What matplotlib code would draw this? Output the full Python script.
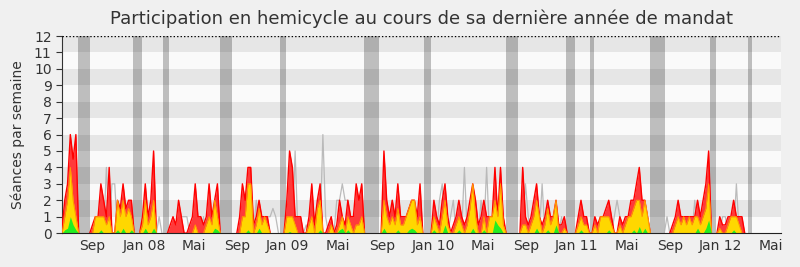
import matplotlib.pyplot as plt
import numpy as np

# Weekly data (week 0 = mid-June 2007)
presences = [
    0.3, 2, 3, 6, 4.5, 6, 0, 0, 0, 0,
    0, 0.5, 1, 1, 3, 2, 1, 4, 0, 0,
    2, 1.5, 3, 1.5, 2, 2, 0, 0, 0, 1,
    3, 1, 2, 5, 0, 0, 0, 0, 0, 0.5,
    1, 0.5, 2, 1, 0, 0, 0.5, 1, 3, 1,
    1, 0.5, 1, 3, 1, 2, 3, 0, 0, 0,
    0, 0, 0, 0, 1, 3, 2, 4, 4, 0.5,
    1, 2, 1, 1, 1, 0, 0, 0, 0, 0,
    0, 2, 5, 4, 1, 1, 1, 0, 0, 1,
    3, 0.5, 2, 3, 0, 0, 0.5, 1, 0, 0.5,
    2, 1, 0.5, 2, 1, 1, 3, 2, 3, 0,
    0, 0, 0, 0, 0, 0, 5, 2, 1, 2,
    1, 3, 1, 1, 1, 1.5, 2, 2, 1, 3,
    0, 0, 0, 0, 2, 1, 0.5, 2, 3, 1,
    0, 0.5, 1, 2, 1, 0.5, 1, 2, 3, 2,
    0.5, 1, 2, 1, 1, 1, 4, 1, 4, 1,
    0, 0, 0, 0, 0, 0, 4, 1, 0.5, 1,
    2, 3, 1, 0.5, 1, 2, 1, 1, 2, 0.5,
    0.5, 1, 0, 0, 0, 0, 1, 2, 1, 1,
    0, 0, 1, 0.5, 1, 1, 1.5, 2, 1, 0,
    0, 1, 0.5, 1, 1, 2, 2, 3, 4, 2,
    2, 1, 0, 0, 0, 0, 0, 0, 0, 0,
    0.5, 1, 2, 1, 1, 1, 1, 1, 1, 2,
    1, 2, 3, 5, 0, 0, 0, 1, 0.5, 0.5,
    1, 1, 2, 1, 1, 1, 0, 0, 0, 0,
    0, 0, 0, 0, 0, 0, 0, 0, 0, 0,
]

participations = [
    0, 1, 2, 4, 2, 1, 0, 0, 0, 0,
    0, 0, 1, 1, 1, 1, 0.5, 1, 0, 0,
    2, 1, 2, 1, 1.5, 1, 0, 0, 0, 0.5,
    2, 0.5, 1, 2, 0, 0, 0, 0, 0, 0,
    0, 0, 0, 0, 0, 0, 0, 0, 0.5, 0,
    0, 0, 0.5, 1, 0.5, 2, 1, 0, 0, 0,
    0, 0, 0, 0, 0, 1, 1, 3, 3, 0,
    0.5, 1.5, 0.5, 1, 0.5, 0, 0, 0, 0, 0,
    0, 1, 1, 1, 0.5, 0, 0, 0, 0, 0.5,
    1, 0, 1.5, 2, 0, 0, 0, 0.5, 0, 0,
    0.5, 1, 0, 1, 0.5, 0, 0.5, 0.5, 1, 0,
    0, 0, 0, 0, 0, 0, 2, 1, 0.5, 1,
    0.5, 1.5, 0.5, 0.5, 1, 1.5, 2, 2, 0.5, 1,
    0, 0, 0, 0, 1, 0.5, 0, 1, 2, 0.5,
    0, 0, 0.5, 1, 0.5, 0, 0.5, 1.5, 3, 1,
    0, 0, 1, 0, 1, 1, 2, 1, 3, 0.5,
    0, 0, 0, 0, 0, 0, 0.5, 0.5, 0, 0.5,
    1, 2, 1, 0, 0.5, 1.5, 0.5, 1, 2, 0,
    0, 0.3, 0, 0, 0, 0, 0.5, 1, 0.5, 0.5,
    0, 0, 0.5, 0, 1, 1, 1, 1, 0.5, 0,
    0, 0.5, 0, 0.5, 1, 1, 1.5, 2, 2, 1,
    2, 1, 0, 0, 0, 0, 0, 0, 0, 0,
    0, 0.5, 1, 0.5, 1, 0.5, 1, 0.5, 1, 1,
    0.5, 1, 1.5, 3, 0, 0, 0, 0.3, 0, 0,
    0.5, 1, 1, 1, 0.5, 0, 0, 0, 0, 0,
    0, 0, 0, 0, 0, 0, 0, 0, 0, 0,
]

questions = [
    0, 0.2, 0.3, 1, 0.5, 0.2, 0, 0, 0, 0,
    0, 0, 0, 0, 0.2, 0, 0, 0, 0, 0,
    0.2, 0, 0.3, 0, 0, 0.2, 0, 0, 0, 0,
    0.3, 0, 0, 0.3, 0, 0, 0, 0, 0, 0,
    0, 0, 0, 0, 0, 0, 0, 0, 0, 0,
    0, 0, 0, 0, 0, 0.3, 0.2, 0, 0, 0,
    0, 0, 0, 0, 0, 0, 0, 0.2, 0, 0,
    0, 0.3, 0, 0, 0, 0, 0, 0, 0, 0,
    0, 0, 0.1, 0, 0, 0, 0, 0, 0, 0,
    0, 0, 0, 0.2, 0, 0, 0, 0, 0, 0,
    0.2, 0.3, 0, 0.2, 0, 0, 0, 0, 0, 0,
    0, 0, 0, 0, 0, 0, 0.3, 0, 0, 0,
    0, 0.2, 0, 0, 0, 0.2, 0.3, 0.2, 0, 0,
    0, 0, 0, 0, 0.2, 0, 0, 0, 0.5, 0,
    0, 0, 0, 0.2, 0, 0, 0, 0, 0.3, 0,
    0, 0, 0.2, 0, 0, 0, 0.8, 0.5, 0.3, 0,
    0, 0, 0, 0, 0, 0, 0, 0, 0, 0,
    0, 0.3, 0, 0, 0, 0.2, 0, 0, 0.5, 0,
    0, 0, 0, 0, 0, 0, 0, 0.2, 0, 0,
    0, 0, 0, 0, 0, 0, 0, 0.2, 0, 0,
    0, 0, 0, 0, 0, 0, 0.2, 0, 0.4, 0,
    0.3, 0, 0, 0, 0, 0, 0, 0, 0, 0,
    0, 0, 0, 0, 0, 0, 0, 0, 0, 0.3,
    0, 0, 0.3, 0.8, 0, 0, 0, 0, 0, 0,
    0, 0, 0.2, 0, 0, 0, 0, 0, 0, 0,
    0, 0, 0, 0, 0, 0, 0, 0, 0, 0,
]

mediane = [
    0, 0, 0, 0, 0, 0, 0, 0, 0, 0,
    0, 0, 0, 0, 0, 0, 4, 0, 3, 3,
    0, 0, 0, 0, 0, 0, 0, 0, 0, 0,
    0, 0, 0, 0, 0, 1, 0, 0, 0, 0,
    0, 0, 0, 1, 1, 1, 0, 0, 0, 0,
    0, 1, 0, 0, 0, 0, 0, 0, 0, 0,
    0, 0, 0, 0, 0, 0, 0, 0, 0, 0,
    2, 0, 0, 0, 1, 1, 1.5, 1, 0, 0,
    0, 0, 0, 0, 5, 0, 0, 0, 0.5, 0,
    0, 0, 0, 0, 6, 1, 0, 0, 0, 2,
    2, 3, 2, 2, 0, 0, 0, 0, 0, 0,
    0, 0, 0, 0, 0, 0, 0, 0, 0, 2,
    0, 0, 0, 0, 0, 0, 0, 0, 0, 0,
    0, 0, 0, 0, 0, 0, 2, 3, 0, 0,
    1, 2, 0, 0, 0, 4, 0, 0, 0, 0,
    0, 2, 0, 4, 0, 0, 0, 0, 0, 0,
    0, 0, 0, 0, 0, 0, 0, 3, 1, 0,
    0, 0, 0, 3, 0, 0, 0, 0, 0, 0,
    1, 0, 0, 0, 0, 0, 0, 0, 0, 0,
    0, 0, 0, 0, 0, 0, 0, 0, 0, 1,
    2, 1, 0, 0, 0, 0, 0, 0, 0, 0,
    0, 0, 0, 0, 0, 0, 0, 0, 1, 0,
    0, 0, 0, 0, 0, 0, 0, 0, 2, 0,
    0, 0, 0, 0, 0, 0, 0, 0, 1, 1,
    0, 0, 0, 3, 0, 0, 0, 0, 0, 0,
    0, 0, 0, 0, 0, 0, 0, 0, 0, 0,
]

# Vacation periods (in weeks)
vacances_debut = [5.8, 25.6, 36.4, 56.9, 78.5, 108.8, 130.4, 159.9, 181.6, 190.2, 211.8, 233.4, 247.1]
vacances_fin = [10.1, 28.8, 38.5, 61.2, 80.7, 114.2, 132.9, 164.3, 184.8, 191.6, 217.2, 235.6, 248.6]

# Month labels
mois_pos = [11.05, 29.8, 47.5, 63.3, 81.05, 99.4, 115.2, 133.7, 151.5, 167.1, 185.5, 203.5, 219.3, 237.4, 255.3]
mois_labels = ['Sep', 'Jan 08', 'Mai', 'Sep', 'Jan 09', 'Mai', 'Sep', 'Jan 10', 'Mai',
               'Sep', 'Jan 11', 'Mai', 'Sep', 'Jan 12', 'Mai']

weeks = np.arange(len(presences))


def contour(vals):
    # hide the outline where the series sits on the baseline
    v = np.array(vals, dtype=float)
    z = v == 0
    left = np.r_[True, z[:-1]]
    right = np.r_[z[1:], True]
    out = v.copy()
    out[z & left & right] = np.nan
    return out


fig = plt.figure(figsize=(8, 2.67), dpi=100, facecolor='#f0f0f0')
ax = fig.add_axes([0.0775, 0.127, 0.8985, 0.738])
ax.set_facecolor('#fafafa')

# horizontal stripes
for y in range(1, 12, 2):
    ax.axhspan(y, y + 1, color='#e6e6e6', lw=0, zorder=0)

# vacation bands
for a, b in zip(vacances_debut, vacances_fin):
    ax.axvspan(a, b, color='black', alpha=0.24, lw=0, zorder=1)

ax.plot(weeks, contour(mediane), color='#b4b4b4', lw=0.9, alpha=0.9, zorder=2)
ax.fill_between(weeks, presences, color='#ff3a3a', lw=0, zorder=3)
ax.plot(weeks, contour(presences), color='#ff0000', lw=1, zorder=3)
ax.fill_between(weeks, participations, color='#ffd700', lw=0, zorder=4)
ax.plot(weeks, contour(participations), color='#ff9900', lw=0.7, zorder=4)
ax.fill_between(weeks, questions, color='#22ee22', lw=0, zorder=5)

ax.axhline(12, color='black', lw=1, ls=(0, (1, 1.5)), zorder=6)

ax.set_xlim(0, 259)
ax.set_ylim(0, 12)
ax.set_yticks(range(0, 13))
ax.set_xticks(mois_pos)
ax.set_xticklabels(mois_labels)
ax.tick_params(axis='x', length=0, pad=4, labelsize=10, colors='#333333')
ax.tick_params(axis='y', length=4, labelsize=10, colors='#333333')

for s in ['top', 'right']:
    ax.spines[s].set_visible(False)
ax.spines['left'].set_color('#333333')
ax.spines['bottom'].set_color('#222222')
ax.spines['bottom'].set_zorder(7)

ax.set_ylabel('Séances par semaine', fontsize=10, color='#333333', labelpad=6)
fig.text(0.527, 0.93, 'Participation en hemicycle au cours de sa dernière année de mandat',
         fontsize=13, color='#333333', ha='center', va='center')

fig.savefig('out.png', dpi=100, facecolor=fig.get_facecolor())
